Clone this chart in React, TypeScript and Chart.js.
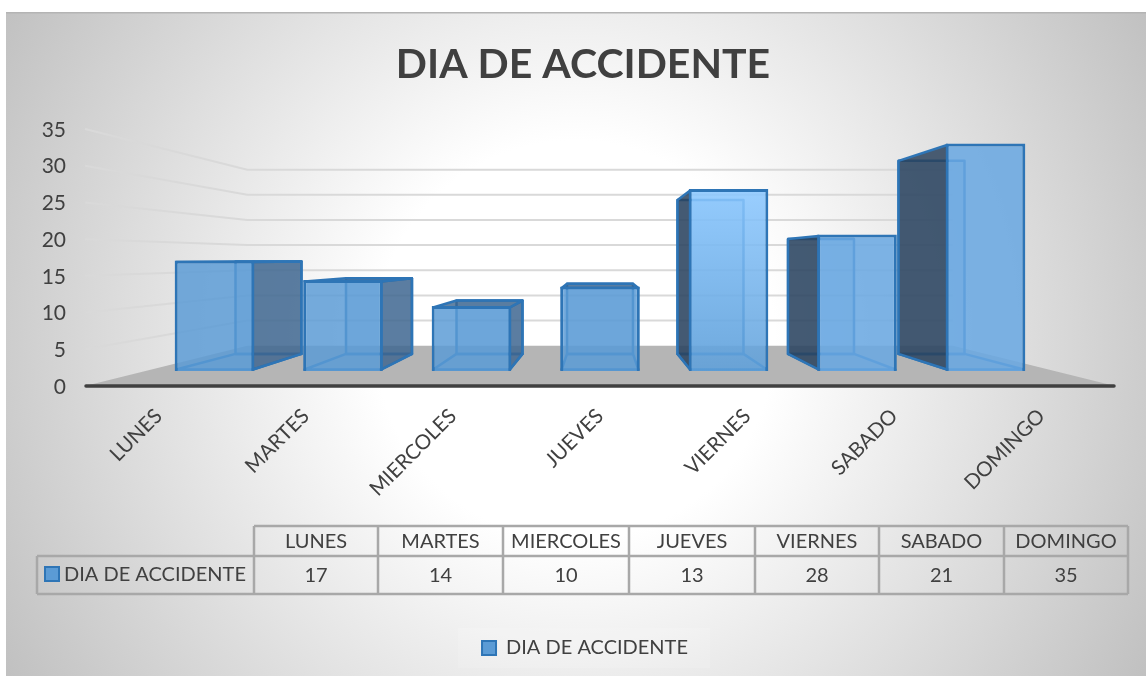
import React, { useEffect, useRef } from "react";
import { Chart, registerables } from "chart.js";

Chart.register(...registerables);

const categories = ["LUNES", "MARTES", "MIERCOLES", "JUEVES", "VIERNES", "SABADO", "DOMINGO"];
const accidentes = [17, 14, 10, 13, 28, 21, 35];
const seriesName = "DIA DE ACCIDENTE";
const chartTitle = "DIA DE ACCIDENTE";

const W = 1146;
const H = 676;
const FONT = "Lato, Carlito, 'Open Sans', sans-serif";
const TEXT = "#404040";
const EDGE = "#2e75b6";
const VP = { x: 600, y: 258 };
const WALL = 0.685;
const BAR_DEPTH = 0.86;
const BAR_BORDER = 3;
const AREA = { left: 85, right: 1115, top: 130, bottom: 387 };
const FRONT = { zero: 371, perUnit: 6.5, first: 214.5, step: 128.5 };
const TABLE = { cols: [254, 378, 503, 629, 755, 879, 1004, 1128], left: 37, top: 526, mid: 556, bottom: 594 };
const PAD_LEFT = 20;
const PAD_RIGHT_AXIS = 31;

const depth = (x: number, y: number, r: number): [number, number] => [VP.x + (x - VP.x) * r, VP.y + (y - VP.y) * r];

function poly(ctx: CanvasRenderingContext2D, pts: [number, number][], fill: string | null, stroke: string | null, lw = 2.5) {
  ctx.beginPath();
  pts.forEach((p, i) => (i ? ctx.lineTo(p[0], p[1]) : ctx.moveTo(p[0], p[1])));
  ctx.closePath();
  if (fill) {
    ctx.fillStyle = fill;
    ctx.fill();
  }
  if (stroke) {
    ctx.strokeStyle = stroke;
    ctx.lineWidth = lw;
    ctx.lineJoin = "round";
    ctx.stroke();
  }
}

function swatch(ctx: CanvasRenderingContext2D, x: number, y: number, s: number) {
  ctx.fillStyle = "#5b9bd5";
  ctx.strokeStyle = EDGE;
  ctx.lineWidth = 2;
  ctx.fillRect(x, y, s, s);
  ctx.strokeRect(x, y, s, s);
}

const scene = {
  id: "scene",
  afterLayout(chart: any) {
    const lg = chart.legend;
    if (lg) {
      lg.left += 2;
      lg.right += 2;
    }
  },
  beforeDraw(chart: any) {
    const { ctx } = chart;
    ctx.save();
    ctx.fillStyle = "#ffffff";
    ctx.fillRect(0, 0, W, H);
    const g = ctx.createRadialGradient(575, 340, 0, 575, 340, 665);
    g.addColorStop(0, "#ffffff");
    g.addColorStop(0.3, "#ffffff");
    g.addColorStop(1, "#c0c0c0");
    ctx.fillStyle = g;
    ctx.fillRect(6, 13, W - 6, H - 13);
    ctx.fillStyle = "#b4b4b4";
    ctx.fillRect(6, 12, W - 6, 1.5);
    const lg = chart.legend;
    if (lg) {
      ctx.fillStyle = "rgba(255,255,255,0.14)";
      ctx.fillRect(458, lg.top, 252, lg.height);
    }
    ctx.restore();
  },
  beforeDatasetsDraw(chart: any) {
    const { ctx, chartArea: a, scales } = chart;
    const y = scales.y;
    ctx.save();
    const floorBack = depth(a.left, a.bottom - 1, WALL)[1];
    poly(
      ctx,
      [
        [a.left, a.bottom - 1],
        [a.right, a.bottom - 1],
        [depth(a.right, 0, WALL)[0], floorBack],
        [depth(a.left, 0, WALL)[0], floorBack],
      ],
      "#b5b5b5",
      null
    );
    (y.ticks as any[]).forEach((t) => {
      if (t.value === 0) return;
      const p = y.getPixelForValue(t.value) - 1;
      const [bl, by] = depth(a.left, p, WALL);
      const br = depth(a.right, p, WALL)[0];
      ctx.beginPath();
      ctx.moveTo(a.left, p);
      ctx.lineTo(bl, by);
      ctx.lineTo(br, by);
      ctx.strokeStyle = "#d9d9d9";
      ctx.lineWidth = 2;
      ctx.lineJoin = "miter";
      ctx.stroke();
    });
    ctx.beginPath();
    ctx.moveTo(a.left + 1, a.bottom - 1);
    ctx.lineTo(a.right - 1, a.bottom - 1);
    ctx.strokeStyle = "#404040";
    ctx.lineWidth = 3.5;
    ctx.lineCap = "round";
    ctx.stroke();
    ctx.lineCap = "butt";

    const meta = chart.getDatasetMeta(0);
    const inset = BAR_BORDER / 2;
    meta.data.forEach((bar: any) => {
      const L = bar.x - bar.width / 2 + inset;
      const R = bar.x + bar.width / 2 - inset;
      const T = bar.y + inset;
      const B = bar.base - inset;
      const bL = depth(L, 0, BAR_DEPTH)[0];
      const bR = depth(R, 0, BAR_DEPTH)[0];
      const bT = depth(0, T, BAR_DEPTH)[1];
      const bB = depth(0, B, BAR_DEPTH)[1];
      const inner = "rgba(91,155,213,0.3)";
      poly(ctx, [[bL, bT], [bR, bT], [bR, bB], [bL, bB]], inner, EDGE);
      poly(ctx, [[L, B], [R, B], [bR, bB], [bL, bB]], "rgba(91,155,213,0.15)", EDGE);
      if (T > bT + 0.5) {
        poly(ctx, [[L, T], [R, T], [bR, bT], [bL, bT]], "rgba(60,100,140,0.8)", EDGE);
      }
      if (bR > R) {
        poly(ctx, [[R, T], [bR, bT], [bR, bB], [R, B]], "rgba(62,100,140,0.8)", EDGE);
      }
      if (bL < L) {
        poly(ctx, [[L, T], [bL, bT], [bL, bB], [L, B]], "rgba(42,64,90,0.84)", EDGE);
      }
    });
    ctx.restore();
  },
  afterDraw(chart: any) {
    const { ctx } = chart;
    const { cols, left, top, mid, bottom } = TABLE;
    ctx.save();
    ctx.strokeStyle = "#a8a8a8";
    ctx.lineWidth = 2.5;
    ctx.beginPath();
    ctx.moveTo(left, mid);
    ctx.lineTo(cols[7], mid);
    ctx.moveTo(left, bottom);
    ctx.lineTo(cols[7], bottom);
    ctx.moveTo(left, mid);
    ctx.lineTo(left, bottom);
    ctx.moveTo(cols[0], top);
    ctx.lineTo(cols[7], top);
    cols.forEach((c) => {
      ctx.moveTo(c, top);
      ctx.lineTo(c, bottom);
    });
    ctx.stroke();
    ctx.fillStyle = TEXT;
    ctx.textBaseline = "middle";
    ctx.textAlign = "center";
    ctx.font = `20px ${FONT}`;
    categories.forEach((c, i) => {
      const cx = (cols[i] + cols[i + 1]) / 2;
      ctx.fillText(c, cx, (top + mid) / 2 + 1);
      ctx.fillText(String(accidentes[i]), cx, (mid + bottom) / 2 + 1);
    });
    ctx.textAlign = "left";
    ctx.fillText(seriesName, 64, (mid + bottom) / 2);
    swatch(ctx, 45, 567, 14);
    ctx.restore();
  },
};

const frontFill = (c: any) => {
  if (c.dataIndex === undefined) return "#5b9bd5";
  const { chartArea: a } = c.chart;
  if (!a) return "rgba(91,155,213,0.84)";
  if (c.dataIndex === 4) {
    const g = c.chart.ctx.createLinearGradient(0, 189, 0, 370);
    g.addColorStop(0, "rgba(140,200,255,0.88)");
    g.addColorStop(1, "rgba(95,160,218,0.86)");
    return g;
  }
  if (c.dataIndex >= 5) return "rgba(105,168,226,0.86)";
  return "rgba(91,155,213,0.84)";
};

export default function App() {
  const ref = useRef<HTMLCanvasElement | null>(null);
  useEffect(() => {
    if (!ref.current) return;
    Chart.defaults.font.family = FONT;
    const chart = new Chart(ref.current, {
      type: "bar",
      data: {
        labels: categories,
        datasets: [
          {
            label: seriesName,
            data: accidentes.map((v, i) => ({ x: i, y: v })) as any,
            xAxisID: "x1",
            yAxisID: "y1",
            backgroundColor: frontFill as any,
            borderColor: EDGE,
            borderWidth: BAR_BORDER,
            categoryPercentage: 1,
            barPercentage: 0.62,
          },
        ],
      },
      options: {
        responsive: false,
        animation: false,
        events: [],
        layout: { padding: { left: PAD_LEFT, right: 0, top: 0, bottom: 8 } },
        plugins: {
          title: {
            display: true,
            text: chartTitle,
            color: TEXT,
            font: { size: 41, weight: "bold", family: FONT, lineHeight: 1.2 },
            padding: { top: 40, bottom: 40.8 },
          },
          legend: {
            display: true,
            position: "bottom",
            labels: {
              boxWidth: 14,
              boxHeight: 14,
              color: TEXT,
              font: { size: 20, family: FONT },
              padding: 10,
              generateLabels: () => [
                {
                  text: seriesName,
                  fillStyle: "#5b9bd5",
                  strokeStyle: EDGE,
                  fontColor: TEXT,
                  lineWidth: 2,
                  hidden: false,
                  datasetIndex: 0,
                } as any,
              ],
            },
          },
          tooltip: { enabled: false },
        },
        scales: {
          x: {
            type: "category",
            position: "bottom",
            offset: true,
            grid: { display: false, drawTicks: false },
            border: { display: false },
            ticks: {
              color: TEXT,
              font: { size: 20.5, family: FONT },
              minRotation: 45,
              maxRotation: 45,
              autoSkip: false,
              padding: 17,
            },
            afterFit: (s: any) => {
              s.height = H - AREA.bottom - (s.chart.legend?.height ?? 43) - 8;
            },
          },
          y: {
            type: "linear",
            position: "left",
            min: 0,
            max: 35,
            grid: { display: false, drawTicks: false },
            border: { display: false },
            ticks: { stepSize: 5, color: TEXT, font: { size: 21, family: FONT }, padding: 19 },
            afterFit: (s: any) => {
              s.width = AREA.left - PAD_LEFT;
            },
          },
          yRightSpacer: {
            type: "linear",
            position: "right",
            min: 0,
            max: 35,
            grid: { display: false, drawTicks: false },
            border: { display: false },
            ticks: { display: false },
            afterFit: (s: any) => {
              s.width = PAD_RIGHT_AXIS;
            },
          },
          x1: {
            type: "linear",
            display: false,
            offset: false,
            min: (AREA.left - FRONT.first) / FRONT.step,
            max: (AREA.right - FRONT.first) / FRONT.step,
            grid: { display: false },
          },
          y1: {
            type: "linear",
            display: false,
            position: "left",
            beginAtZero: false,
            min: -(AREA.bottom - FRONT.zero) / FRONT.perUnit,
            max: (FRONT.zero - AREA.top) / FRONT.perUnit,
            grid: { display: false },
          },
        },
      } as any,
      plugins: [scene as any],
    });
    return () => chart.destroy();
  }, []);
  return (
    <div style={{ position: "fixed", left: 0, top: 0, width: W, height: H }}>
      <canvas ref={ref} width={W} height={H} style={{ display: "block", width: W, height: H }} />
    </div>
  );
}
